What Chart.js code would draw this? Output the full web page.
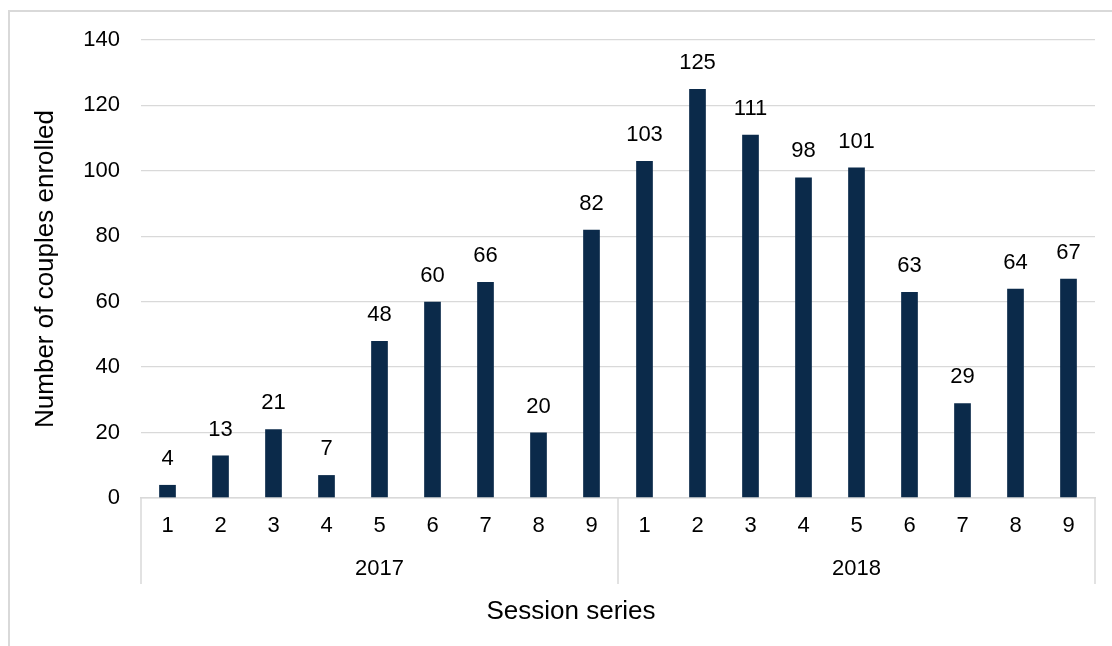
<!DOCTYPE html>
<html>
<head>
<meta charset="utf-8">
<script src="https://cdn.jsdelivr.net/npm/chart.js@4/dist/chart.umd.min.js"></script>
<style>
  html, body { margin: 0; padding: 0; background: #fff; overflow: hidden; }
  #frame { position: absolute; left: 8px; top: 10px; width: 2000px; height: 2000px; border: 2px solid #d9d9d9; }
  #chart { position: absolute; left: 0; top: 0; }
</style>
</head>
<body>
<div id="frame"></div>
<canvas id="chart" width="1112" height="646"></canvas>
<script>
// session numbers within each year
const sessions = ['1', '2', '3', '4', '5', '6', '7', '8', '9', '1', '2', '3', '4', '5', '6', '7', '8', '9'];
const years = ['2017', '2018'];
const enrolled = [4, 13, 21, 7, 48, 60, 66, 20, 82, 103, 125, 111, 98, 101, 63, 29, 64, 67];
const yMin = 0, yMax = 140, yStep = 20;

Chart.defaults.font.family = '"Liberation Sans", Arial, sans-serif';
Chart.defaults.color = '#000';

// value labels above the bars
const barLabels = {
    id: 'barLabels',
    afterDatasetsDraw(chart) {
        const ctx = chart.ctx;
        const meta = chart.getDatasetMeta(0);
        ctx.save();
        ctx.font = '22px "Liberation Sans", Arial, sans-serif';
        ctx.fillStyle = '#000';
        ctx.textAlign = 'center';
        ctx.textBaseline = 'middle';
        meta.data.forEach(function (bar, i) {
            ctx.fillText(String(enrolled[i]), bar.x, bar.y - 26);
        });
        ctx.restore();
    }
};

// vertical separators of the year groups + the x axis title
const groupLines = {
    id: 'groupLines',
    afterDraw(chart) {
        const x = chart.scales.x;
        const ctx = chart.ctx;
        const mid = (x.getPixelForValue(8) + x.getPixelForValue(9)) / 2;
        ctx.save();
        ctx.strokeStyle = '#d9d9d9';
        ctx.lineWidth = 1.5;
        [x.left, mid, x.right].forEach(function (px) {
            ctx.beginPath();
            ctx.moveTo(px, x.top);
            ctx.lineTo(px, 584);
            ctx.stroke();
        });
        // excel centres this title on the whole frame, not on the plot
        ctx.font = '26px "Liberation Sans", Arial, sans-serif';
        ctx.fillStyle = '#000';
        ctx.textAlign = 'center';
        ctx.textBaseline = 'middle';
        ctx.fillText('Session series', chart.width / 2 + 15, 612);
        ctx.restore();
    }
};

const config = {
    type: 'bar',
    data: {
        labels: sessions,
        datasets: [{
            data: enrolled,
            backgroundColor: '#0b2a4a',
            categoryPercentage: 1,
            barPercentage: 0.315
        }]
    },
    options: {
        responsive: false,
        animation: false,
        layout: { padding: { left: 0, right: 17, top: 40, bottom: 0 } },
        plugins: { legend: { display: false }, tooltip: { enabled: false } },
        scales: {
            x: {
                weight: 0,
                grid: { display: false, drawTicks: false },
                border: { display: true, color: '#d9d9d9', width: 1.5 },
                ticks: { font: { size: 22 }, padding: 15, maxRotation: 0, autoSkip: false },
                afterFit(scale) { scale.height = 50; }
            },
            x2: {
                type: 'category',
                position: 'bottom',
                weight: 1,
                labels: years,
                offset: true,
                grid: { display: false, drawTicks: false },
                border: { display: false },
                ticks: { font: { size: 22 }, padding: 8 },
                afterFit(scale) { scale.height = 98; }
            },
            y: {
                min: yMin,
                max: yMax,
                grid: { color: '#d9d9d9', lineWidth: 1.3, drawTicks: false },
                border: { display: false },
                ticks: { stepSize: yStep, font: { size: 22 }, padding: 21 },
                title: { display: true, text: 'Number of couples enrolled', font: { size: 26 }, padding: { top: 30, bottom: 0 } },
                afterFit(scale) { scale.width = 141; }
            }
        }
    },
    plugins: [barLabels, groupLines]
};

const chart = new Chart(document.getElementById('chart').getContext('2d'), config);
</script>
</body>
</html>
